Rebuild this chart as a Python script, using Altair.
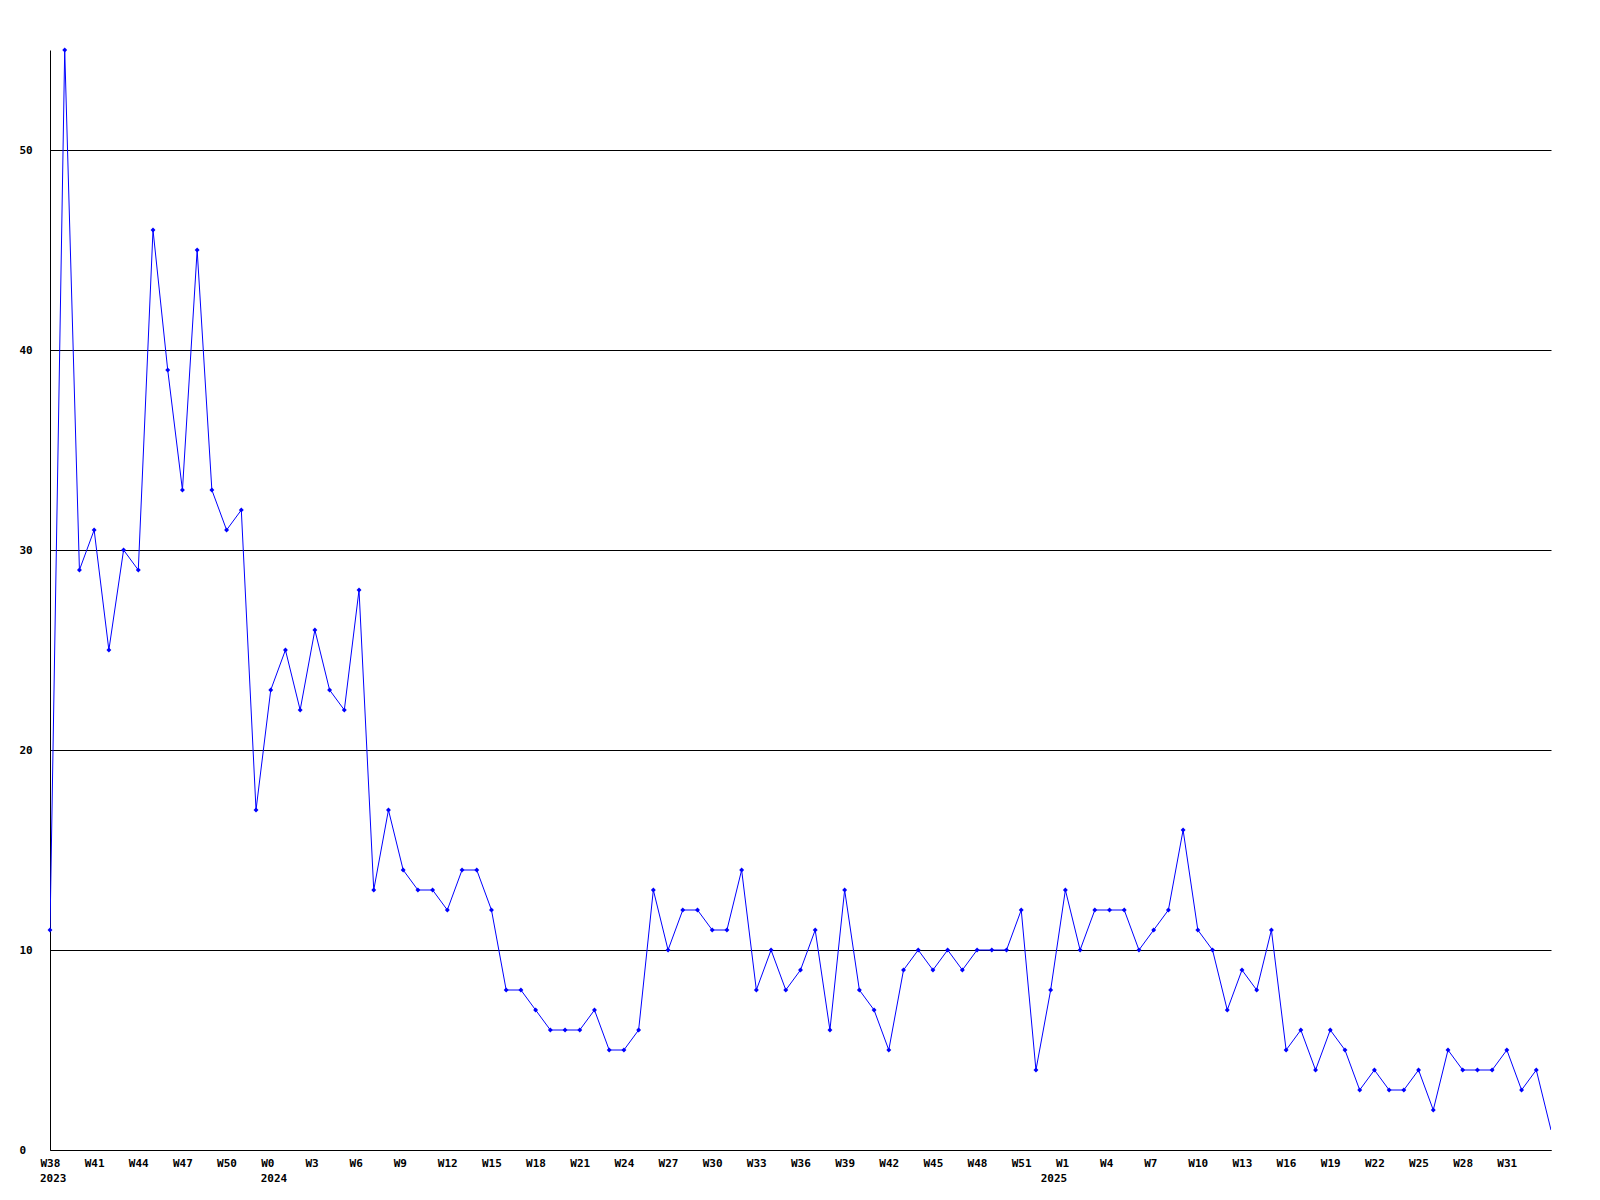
import altair as alt
import pandas as pd

# Weekly counts, W38 2023 .. W34 2025
years = [2023] * 15 + [2024] * 53 + [2025] * 35
weeks = list(range(38, 53)) + list(range(0, 53)) + list(range(0, 35))
values = [
    11, 55, 29, 31, 25, 30, 29, 46, 39, 33, 45, 33, 31, 32, 17,
    23, 25, 22, 26, 23, 22, 28, 13, 17, 14, 13, 13, 12, 14, 14,
    12, 8, 8, 7, 6, 6, 6, 7, 5, 5, 6, 13, 10, 12, 12,
    11, 11, 14, 8, 10, 8, 9, 11, 6, 13, 8, 7, 5, 9, 10,
    9, 10, 9, 10, 10, 10, 12, 4, 8, 13, 10, 12, 12, 12, 10,
    11, 12, 16, 11, 10, 7, 9, 8, 11, 5, 6, 4, 6, 5, 3,
    4, 3, 3, 4, 2, 5, 4, 4, 4, 5, 3, 4, 1,
]
y_ticks = [0, 10, 20, 30, 40, 50]
tick_step = 3

idx = list(range(len(values)))
df = pd.DataFrame({"idx": idx, "value": values, "year": years, "week": weeks})
last_idx = len(values) - 1

# Week tick labels every 3 weeks (last one W31)
tick_idx = list(range(0, len(values) - 1, tick_step))
js_labels = "[" + ",".join('"W%d"' % weeks[i] for i in tick_idx) + "]"
label_expr = js_labels + "[round(datum.value / %d)]" % tick_step

# Year labels at the first week of each year
year_rows = []
for i, y in enumerate(years):
    if i == 0 or years[i - 1] != y:
        year_rows.append({"idx": i, "label": str(y)})
year_df = pd.DataFrame(year_rows)

FONT = "DejaVu Sans Mono"
PLOT_W, PLOT_H = 1501, 1100

x_scale = alt.Scale(domain=[0, last_idx], nice=False, zero=False)

x_enc = alt.X(
    "idx:Q",
    scale=x_scale,
    axis=alt.Axis(
        values=tick_idx,
        labelExpr=label_expr,
        title=None,
        grid=False,
        ticks=False,
        domainColor="black",
        domainWidth=1,
        labelFont=FONT,
        labelFontWeight="bold",
        labelFontSize=11,
        labelColor="black",
        labelAlign="left",
        labelBaseline="alphabetic",
        labelOffset=-10,
        labelPadding=16,
        labelOverlap=False,
        labelFlush=False,
    ),
)
y_enc = alt.Y(
    "value:Q",
    scale=alt.Scale(domain=[0, 55], nice=False),
    axis=alt.Axis(
        values=y_ticks,
        title=None,
        grid=True,
        gridColor="black",
        gridWidth=1,
        gridOpacity=1,
        ticks=False,
        domainColor="black",
        domainWidth=1,
        labelFont=FONT,
        labelFontWeight="bold",
        labelFontSize=11,
        labelColor="black",
        labelAlign="left",
        labelBaseline="middle",
        labelPadding=31,
        labelFlush=False,
    ),
)

base = alt.Chart(df).encode(x=x_enc, y=y_enc)
line = base.mark_line(color="#0000FF", strokeWidth=1, clip=True)
pts = base.mark_point(
    shape="diamond", filled=True, color="#0000FF", size=24, opacity=1
).transform_filter(alt.datum.idx < last_idx)

year_text = alt.Chart(year_df).mark_text(
    font=FONT, fontWeight="bold", fontSize=11, color="black",
    align="left", baseline="alphabetic", dx=-10,
).encode(
    x=alt.X("idx:Q", scale=x_scale),
    y=alt.value(PLOT_H + 32),
    text="label:N",
)

chart = (
    alt.layer(line, pts, year_text)
    .properties(
        width=PLOT_W,
        height=PLOT_H,
        padding={"left": 42, "top": 42, "right": 40, "bottom": 50},
        autosize=alt.AutoSizeParams(type="none"),
        background="white",
    )
    .configure_view(stroke=None)
)

chart.save("out.html", embed_options={"renderer": "svg", "actions": False})
